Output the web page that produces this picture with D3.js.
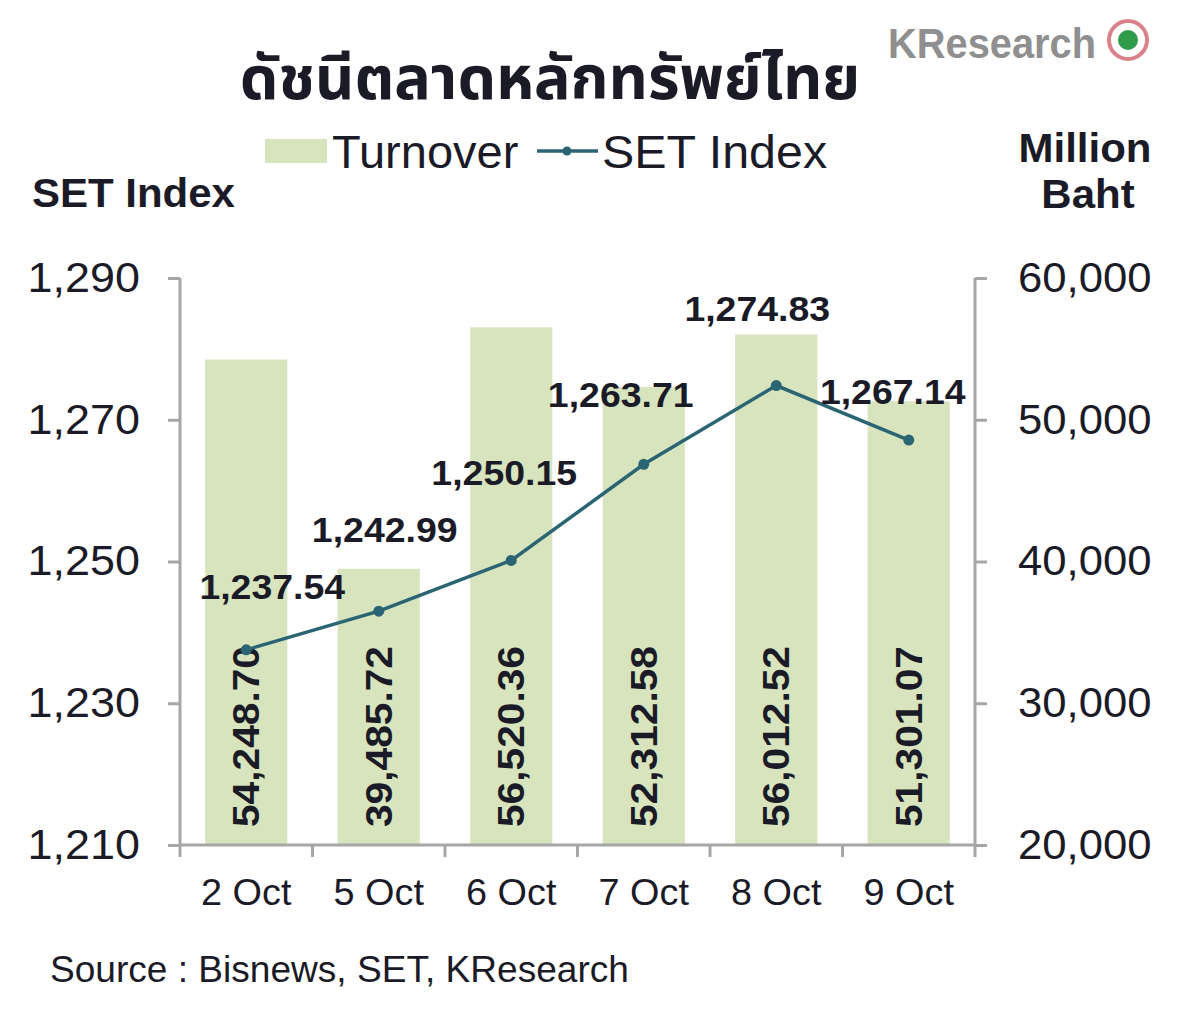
<!DOCTYPE html>
<html><head><meta charset="utf-8">
<script src="https://cdn.jsdelivr.net/npm/d3@7"></script>
<style>body{margin:0;background:#fff;}svg{display:block;}</style>
</head><body>
<script>
const categories = ["2 Oct","5 Oct","6 Oct","7 Oct","8 Oct","9 Oct"];
const turnover = [54248.70, 39485.72, 56520.36, 52312.58, 56012.52, 51301.07];
const setIndex = [1237.54, 1242.99, 1250.15, 1263.71, 1274.83, 1267.14];
const leftTicks = [1210, 1230, 1250, 1270, 1290];
const rightTicks = [20000, 30000, 40000, 50000, 60000];
const title = "ดัชนีตลาดหลักทรัพย์ไทย";
const source = "Source : Bisnews, SET, KResearch";

const W = 1200, H = 1034;
const m = {left:180, right:975, top:278, bottom:845};
const font = "'Liberation Sans', Arial, sans-serif";
const txt = "#1b1b28";
const barColor = "#d7e4bd";
const lineColor = "#2b6573";
const axisColor = "#a6a6a6";

const svg = d3.select("body").append("svg").attr("width",W).attr("height",H);

// horizontally stretch text elements positioned by x/y attributes
function stretch(sel, sx){
  sel.each(function(){
    const t = d3.select(this);
    const x0 = +t.attr("x") || 0;
    t.attr("x", x0/sx).attr("transform", `scale(${sx},1)`);
  });
}

const x = d3.scaleBand().domain(categories).range([m.left, m.right]).paddingInner(0.38).paddingOuter(0.19);
const xb = d3.scaleBand().domain(categories).range([m.left, m.right]);
const yL = d3.scaleLinear().domain([1210,1290]).range([m.bottom, m.top]);
const yR = d3.scaleLinear().domain([20000,60000]).range([m.bottom, m.top]);

// bars
svg.append("g").selectAll("rect").data(turnover).join("rect")
  .attr("x",(d,i)=>x(categories[i])).attr("width",x.bandwidth())
  .attr("y",d=>yR(d)).attr("height",d=>m.bottom-yR(d)).attr("fill",barColor);

// axes
const gL = svg.append("g").attr("transform",`translate(${m.left},0)`)
  .call(d3.axisLeft(yL).tickValues(leftTicks).tickFormat(d3.format(",")).tickSize(12).tickPadding(28));
const gR = svg.append("g").attr("transform",`translate(${m.right},0)`)
  .call(d3.axisRight(yR).tickValues(rightTicks).tickFormat(d3.format(",")).tickSize(12).tickPadding(31));
[gL,gR].forEach(g=>{
  g.select(".domain").attr("stroke",axisColor).attr("stroke-width",3).attr("d",`M0,${m.top}V${m.bottom}`);
  g.selectAll(".tick line").attr("stroke",axisColor).attr("stroke-width",3);
  g.selectAll(".tick text").attr("font-family",font).attr("font-size",42).attr("fill",txt);
});
stretch(gL.selectAll(".tick text"), 1.07);
stretch(gR.selectAll(".tick text"), 1.04);

const gX = svg.append("g").attr("transform",`translate(0,${m.bottom})`)
  .call(d3.axisBottom(xb).tickSize(0).tickPadding(44));
gX.select(".domain").attr("stroke",axisColor).attr("stroke-width",3).attr("d",`M${m.left},0H${m.right}`);
gX.selectAll(".tick text").attr("font-family",font).attr("font-size",36).attr("fill",txt).attr("dy","0.45em");
stretch(gX.selectAll(".tick text"), 1.05);
// category boundary ticks
const bounds = categories.map(c=>xb(c)).concat([m.right]);
svg.append("g").selectAll("line").data(bounds).join("line")
  .attr("x1",d=>d).attr("x2",d=>d)
  .attr("y1",m.bottom).attr("y2",m.bottom+12).attr("stroke",axisColor).attr("stroke-width",3);

// bar value labels
svg.append("g").selectAll("text").data(turnover).join("text")
  .attr("transform",(d,i)=>`translate(${x(categories[i])+x.bandwidth()/2},${m.bottom-18}) rotate(-90) scale(1.1,1)`)
  .attr("dominant-baseline","central")
  .attr("font-family",font).attr("font-weight","bold").attr("font-size",37).attr("fill",txt)
  .text(d=>d3.format(",.2f")(d));

// line
const cx = (i)=> x(categories[i])+x.bandwidth()/2;
svg.append("path").datum(setIndex)
  .attr("d", d3.line().x((d,i)=>cx(i)).y(d=>yL(d)))
  .attr("fill","none").attr("stroke",lineColor).attr("stroke-width",3.5);
svg.append("g").selectAll("circle").data(setIndex).join("circle")
  .attr("cx",(d,i)=>cx(i)).attr("cy",d=>yL(d)).attr("r",5.5).attr("fill",lineColor);

// line labels (layout offsets)
const lblDx = [26, 6, -7, -23, -19, -16];
const lblDy = [-51, -69, -75, -57, -65, -36];
const ll = svg.append("g").selectAll("text").data(setIndex).join("text")
  .attr("x",(d,i)=>cx(i)+lblDx[i]).attr("y",(d,i)=>yL(d)+lblDy[i])
  .attr("text-anchor","middle")
  .attr("font-family",font).attr("font-weight","bold").attr("font-size",35).attr("fill",txt)
  .text(d=>d3.format(",.2f")(d));
stretch(ll, 1.07);

// title
svg.append("text").attr("x",550).attr("y",99).attr("text-anchor","middle")
  .attr("font-family","'Noto Sans Thai','Noto Sans','DejaVu Sans',sans-serif").attr("font-weight","bold")
  .attr("font-size",61).attr("fill",txt).text(title);

// logo
const logo = svg.append("g");
logo.append("text").attr("x",888).attr("y",58).attr("font-family",font).attr("font-weight","bold")
  .attr("font-size",42).attr("fill","#8f8f8f").attr("textLength",208).attr("lengthAdjust","spacingAndGlyphs").text("KResearch");
logo.append("circle").attr("cx",1128).attr("cy",40).attr("r",19).attr("fill","#fff").attr("stroke","#d9808a").attr("stroke-width",4);
logo.append("circle").attr("cx",1128).attr("cy",40).attr("r",10).attr("fill","#2f9a4a");

// legend
svg.append("rect").attr("x",265).attr("y",139).attr("width",62).attr("height",24).attr("fill",barColor);
svg.append("text").attr("x",332).attr("y",168).attr("font-family",font).attr("font-size",47).attr("fill",txt).text("Turnover");
svg.append("line").attr("x1",537).attr("x2",598).attr("y1",151).attr("y2",151).attr("stroke",lineColor).attr("stroke-width",3.5);
svg.append("circle").attr("cx",567).attr("cy",151).attr("r",4.5).attr("fill",lineColor);
const lg2 = svg.append("text").attr("x",602).attr("y",168).attr("font-family",font).attr("font-size",47).attr("fill",txt).text("SET Index");
stretch(lg2, 1.03);

// axis titles
const at = svg.append("g");
at.append("text").attr("x",32).attr("y",207).attr("font-family",font).attr("font-weight","bold")
  .attr("font-size",40).attr("fill",txt).text("SET Index");
at.append("text").attr("x",1085).attr("y",162).attr("text-anchor","middle").attr("font-family",font).attr("font-weight","bold")
  .attr("font-size",40).attr("fill",txt).text("Million");
at.append("text").attr("x",1088).attr("y",208).attr("text-anchor","middle").attr("font-family",font).attr("font-weight","bold")
  .attr("font-size",40).attr("fill",txt).text("Baht");
stretch(at.selectAll("text"), 1.05);

// source
const src = svg.append("text").attr("x",50).attr("y",982).attr("font-family",font)
  .attr("font-size",36).attr("fill",txt).text(source);
stretch(src, 1.03);
</script>
</body></html>
